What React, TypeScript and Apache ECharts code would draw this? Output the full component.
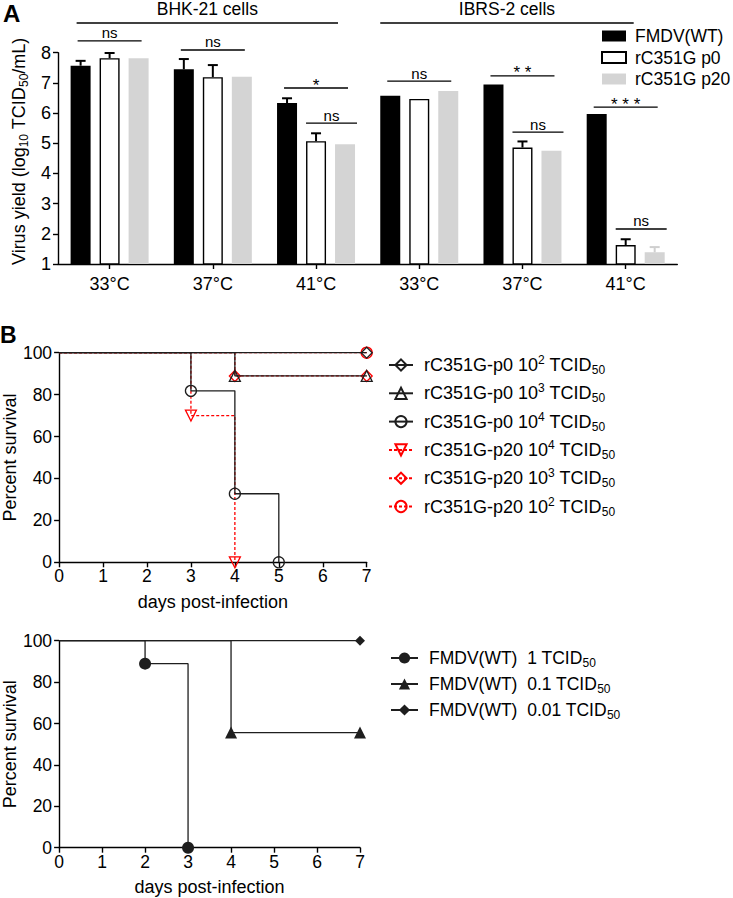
import React, { useEffect, useRef } from 'react';
import * as echarts from 'echarts';

const FONT = "'Liberation Sans', Arial, Helvetica, sans-serif";

// ---------- Panel A data ----------
const tempCategories = ['33°C', '37°C', '41°C', '33°C', '37°C', '41°C'];
const barNames = ['FMDV(WT)', 'rC351G p0', 'rC351G p20'];
const wtYield = [7.57, 7.45, 6.33, 6.57, 6.95, 5.97];
const wtErr = [0.16, 0.34, 0.16, 0, 0, 0];
const p0Yield = [7.82, 7.19, 5.07, 6.47, 4.86, 1.63];
const p0Err = [0.17, 0.4, 0.26, 0, 0.2, 0.19];
const p20Yield = [7.82, 7.2, 4.97, 6.73, 4.75, 1.39];
const p20Err = [0, 0, 0, 0, 0, 0.17];

// significance annotations
const sigGroup = [0, 1, 2, 2, 3, 4, 4, 5, 5];
const sigBarFrom = [0, 0, 0, 1, 0, 0, 1, 0, 1];
const sigBarTo = [2, 2, 2, 2, 2, 2, 2, 2, 2];
const sigLevel = [8.39, 8.09, 6.83, 5.67, 7.06, 7.23, 5.37, 6.2, 2.16];
const sigLabel = ['ns', 'ns', '*', 'ns', 'ns', '* *', 'ns', '* * *', 'ns'];

const cellLabels = ['BHK-21 cells', 'IBRS-2 cells'];
const cellFrom = [0, 3];
const cellTo = [2, 5];
const cellLevel = [8.98, 8.98];

// ---------- Panel B data (top) ----------
const topNames = [
  'rC351G-p0 10^2 TCID50',
  'rC351G-p0 10^3 TCID50',
  'rC351G-p0 10^4 TCID50',
  'rC351G-p20 10^4 TCID50',
  'rC351G-p20 10^3 TCID50',
  'rC351G-p20 10^2 TCID50',
];
const topRich = [
  'rC351G-p0 10{sup|2} TCID{sub|50}',
  'rC351G-p0 10{sup|3} TCID{sub|50}',
  'rC351G-p0 10{sup|4} TCID{sub|50}',
  'rC351G-p20 10{sup|4} TCID{sub|50}',
  'rC351G-p20 10{sup|3} TCID{sub|50}',
  'rC351G-p20 10{sup|2} TCID{sub|50}',
];
const p0e2Days = [0, 7];
const p0e2Surv = [100, 100];
const p0e3Days = [0, 4, 7];
const p0e3Surv = [100, 88.9, 88.9];
const p0e4Days = [0, 3, 4, 5];
const p0e4Surv = [100, 81.8, 32.7, 0];
const p20e4Days = [0, 3, 4];
const p20e4Surv = [100, 70, 0];
const p20e3Days = [0, 4, 7];
const p20e3Surv = [100, 88.9, 88.9];
const p20e2Days = [0, 7];
const p20e2Surv = [100, 100];

// ---------- Panel B data (bottom) ----------
const botNames = ['FMDV(WT)  1 TCID50', 'FMDV(WT)  0.1 TCID50', 'FMDV(WT)  0.01 TCID50'];
const botRich = [
  'FMDV(WT)  1 TCID{sub|50}',
  'FMDV(WT)  0.1 TCID{sub|50}',
  'FMDV(WT)  0.01 TCID{sub|50}',
];
const wt1Days = [0, 2, 3];
const wt1Surv = [100, 88.9, 0];
const wt01Days = [0, 4, 7];
const wt01Surv = [100, 55.6, 55.6];
const wt001Days = [0, 7];
const wt001Surv = [100, 100];

const dayTicks = { min: 0, max: 7, interval: 1 };
const survTicks = { min: 0, max: 100, interval: 20 };

// ---------- layout / style constants ----------
const BAR_W = 20;
const BAR_STEP = 29;
const RED = '#ff0000';
const LINE = '#1e1e1e';

const richStyles = {
  sup: { fontSize: 12, verticalAlign: 'top', lineHeight: 12, fontFamily: FONT, color: '#000' },
  sub: { fontSize: 12, verticalAlign: 'bottom', lineHeight: 12, fontFamily: FONT, color: '#000' },
};

function kmData(days: number[], surv: number[]) {
  return days.map((d, i) => (i === 0 ? { value: [d, surv[i]], symbol: 'none' } : { value: [d, surv[i]] }));
}

function kmSeries(
  name: string,
  days: number[],
  surv: number[],
  opts: { symbol: string; color: string; dashed: boolean; filled: boolean; rotate?: number; idx: number; z: number; size?: number }
) {
  return {
    type: 'line',
    name,
    xAxisIndex: opts.idx,
    yAxisIndex: opts.idx,
    step: 'end',
    clip: false,
    z: opts.z,
    data: kmData(days, surv),
    symbol: opts.symbol,
    symbolSize: opts.size ?? 11,
    symbolRotate: opts.rotate ?? 0,
    lineStyle: { color: opts.color, width: 1.3, type: opts.dashed ? [3, 2] : 'solid' },
    itemStyle: opts.filled
      ? { color: opts.color, borderColor: opts.color, borderWidth: 0 }
      : { color: 'transparent', borderColor: opts.color, borderWidth: 1.3 },
    emphasis: { disabled: true },
  };
}

const axisLineStyle = { color: '#000', width: 1.4 };

function valueAxis(grid: number, ticks: { min: number; max: number; interval: number }, extra: any) {
  return {
    type: 'value',
    gridIndex: grid,
    min: ticks.min,
    max: ticks.max,
    interval: ticks.interval,
    axisLine: { show: true, onZero: false, lineStyle: axisLineStyle },
    axisTick: { show: true, length: 5, lineStyle: axisLineStyle },
    splitLine: { show: false },
    axisLabel: { fontSize: 17.5, color: '#000', fontFamily: FONT },
    nameTextStyle: { fontSize: 18, color: '#000', fontFamily: FONT },
    ...extra,
  };
}

export default function App() {
  const ref = useRef<HTMLDivElement>(null);

  useEffect(() => {
    if (!ref.current) return;
    const chart = echarts.init(ref.current, null, { renderer: 'svg' });

    const means = [wtYield, p0Yield, p20Yield];
    const errs = [wtErr, p0Err, p20Err];
    const errData: number[][] = [];
    errs.forEach((arr, s) =>
      arr.forEach((e, c) => {
        if (e > 0) errData.push([c, s, means[s][c], e]);
      })
    );
    const sigData = sigGroup.map((g, i) => [g, sigBarFrom[i], sigBarTo[i], sigLevel[i]]);
    const cellData = cellFrom.map((f, i) => [f, cellTo[i], cellLevel[i]]);
    const cellPad = [
      [-33, 22],
      [-39, 8],
    ];

    const topRichMap: Record<string, string> = {};
    topNames.forEach((n, i) => (topRichMap[n] = topRich[i]));
    const botRichMap: Record<string, string> = {};
    botNames.forEach((n, i) => (botRichMap[n] = botRich[i]));

    const option: any = {
      animation: false,
      textStyle: { fontFamily: FONT },
      title: [
        { text: 'A', left: 3, top: 1, padding: 0, textStyle: { fontSize: 24, fontWeight: 'bold', color: '#000', fontFamily: FONT } },
        { text: 'B', left: 0, top: 323, padding: 0, textStyle: { fontSize: 23, fontWeight: 'bold', color: '#000', fontFamily: FONT } },
      ],
      grid: [
        { left: 49.7, right: 55.7, top: 52.7, height: 211.3 },
        { left: 52.7, top: 352.7, width: 314, height: 209.6 },
        { left: 50.7, top: 640.7, width: 309.3, height: 207 },
      ],
      legend: [
        {
          data: barNames,
          orient: 'vertical',
          left: 596,
          top: 22,
          icon: 'rect',
          itemWidth: 24,
          itemHeight: 11,
          itemGap: 3.5,
          selectedMode: false,
          textStyle: { fontSize: 17.5, lineHeight: 18, color: '#000', fontFamily: FONT, padding: [0, 0, 0, 4] },
        },
        {
          data: topNames,
          orient: 'vertical',
          left: 383,
          top: 349,
          itemWidth: 24,
          itemHeight: 14,
          itemGap: 6.3,
          selectedMode: false,
          formatter: (n: string) => topRichMap[n] || n,
          textStyle: { fontSize: 18, lineHeight: 22, color: '#000', fontFamily: FONT, padding: [0, 0, 0, 6], rich: richStyles },
        },
        {
          data: botNames,
          orient: 'vertical',
          left: 385,
          top: 642,
          itemWidth: 27,
          itemHeight: 14,
          itemGap: 4,
          selectedMode: false,
          formatter: (n: string) => botRichMap[n] || n,
          textStyle: { fontSize: 17.5, lineHeight: 22, color: '#000', fontFamily: FONT, padding: [0, 0, 0, 6], rich: richStyles },
        },
      ],
      xAxis: [
        {
          type: 'category',
          gridIndex: 0,
          data: tempCategories,
          axisLine: { show: true, lineStyle: axisLineStyle },
          axisTick: { show: true, alignWithLabel: true, length: 5, lineStyle: axisLineStyle },
          axisLabel: { fontSize: 18, color: '#000', margin: 11, fontFamily: FONT },
          splitLine: { show: false },
        },
        valueAxis(1, dayTicks, {
          name: 'days post-infection',
          nameLocation: 'middle',
          nameGap: 31,
          axisLabel: { fontSize: 17.5, color: '#000', fontFamily: FONT, margin: 5 },
        }),
        valueAxis(2, dayTicks, {
          name: 'days post-infection',
          nameLocation: 'middle',
          nameGap: 30,
          axisLabel: { fontSize: 17.5, color: '#000', fontFamily: FONT, margin: 5 },
        }),
      ],
      yAxis: [
        {
          type: 'value',
          gridIndex: 0,
          min: 1,
          max: 8,
          interval: 1,
          name: 'Virus yield (log{sub|10} TCID{sub|50}/mL)',
          nameLocation: 'middle',
          nameGap: 28,
          nameTextStyle: { fontSize: 18, lineHeight: 22, color: '#000', fontFamily: FONT, rich: richStyles, padding: [0, 0, 0, 14] },
          axisLine: { show: true, lineStyle: axisLineStyle },
          axisTick: { show: true, length: 5, lineStyle: axisLineStyle },
          axisLabel: { fontSize: 18, color: '#000', margin: 7, fontFamily: FONT },
          splitLine: { show: false },
        },
        valueAxis(1, survTicks, {
          name: 'Percent survival',
          nameLocation: 'middle',
          nameGap: 34,
          axisLabel: { fontSize: 17.5, color: '#000', fontFamily: FONT, margin: 7 },
        }),
        valueAxis(2, survTicks, {
          name: 'Percent survival',
          nameLocation: 'middle',
          nameGap: 32,
          axisLabel: { fontSize: 17.5, color: '#000', fontFamily: FONT, margin: 7 },
        }),
      ],
      series: [
        {
          type: 'bar',
          name: barNames[0],
          xAxisIndex: 0,
          yAxisIndex: 0,
          data: wtYield,
          barWidth: BAR_W,
          barGap: '45%',
          itemStyle: { color: '#000' },
        },
        {
          type: 'bar',
          name: barNames[1],
          xAxisIndex: 0,
          yAxisIndex: 0,
          data: p0Yield,
          barWidth: BAR_W,
          barGap: '45%',
          itemStyle: { color: '#fff', borderColor: '#000', borderWidth: 1.4 },
        },
        {
          type: 'bar',
          name: barNames[2],
          xAxisIndex: 0,
          yAxisIndex: 0,
          data: p20Yield,
          barWidth: BAR_W,
          barGap: '45%',
          itemStyle: { color: '#d4d4d4' },
        },
        {
          type: 'custom',
          name: 'err',
          xAxisIndex: 0,
          yAxisIndex: 0,
          z: 5,
          clip: false,
          data: errData,
          renderItem: (params: any, api: any) => {
            const c = api.value(0);
            const s = api.value(1);
            const m = api.value(2);
            const e = api.value(3);
            const base = api.coord([c, m]);
            const top = api.coord([c, m + e]);
            const x = base[0] + (s - 1) * BAR_STEP;
            const color = s === 2 ? '#cfcfcf' : '#000';
            return {
              type: 'group',
              children: [
                { type: 'line', shape: { x1: x, y1: base[1], x2: x, y2: top[1] }, style: { stroke: color, lineWidth: 2 } },
                { type: 'line', shape: { x1: x - 5, y1: top[1], x2: x + 5, y2: top[1] }, style: { stroke: color, lineWidth: 2 } },
              ],
            };
          },
        },
        {
          type: 'custom',
          name: 'sig',
          xAxisIndex: 0,
          yAxisIndex: 0,
          z: 5,
          clip: false,
          data: sigData,
          renderItem: (params: any, api: any) => {
            const g = api.value(0);
            const bf = api.value(1);
            const bt = api.value(2);
            const lv = api.value(3);
            const p = api.coord([g, lv]);
            const x1 = p[0] + (bf - 1) * BAR_STEP - (bf === 0 ? 3 : 10);
            const x2 = p[0] + (bt - 1) * BAR_STEP + (bf === 0 ? 3 : 12);
            const label = sigLabel[params.dataIndex];
            const star = label.indexOf('*') >= 0;
            return {
              type: 'group',
              children: [
                { type: 'line', shape: { x1, y1: p[1], x2, y2: p[1] }, style: { stroke: '#000', lineWidth: 1.3 } },
                {
                  type: 'text',
                  style: {
                    text: label,
                    x: (x1 + x2) / 2,
                    y: star ? p[1] - 3 : p[1] - 0.5,
                    align: 'center',
                    verticalAlign: star ? 'middle' : 'bottom',
                    fontSize: star ? 17 : 15,
                    fontFamily: FONT,
                    fill: '#000',
                  },
                },
              ],
            };
          },
        },
        {
          type: 'custom',
          name: 'cells',
          xAxisIndex: 0,
          yAxisIndex: 0,
          z: 5,
          clip: false,
          data: cellData,
          renderItem: (params: any, api: any) => {
            const f = api.value(0);
            const t = api.value(1);
            const lv = api.value(2);
            const pad = cellPad[params.dataIndex];
            const a = api.coord([f, lv]);
            const b = api.coord([t, lv]);
            const x1 = a[0] + pad[0];
            const x2 = b[0] + pad[1];
            return {
              type: 'group',
              children: [
                { type: 'line', shape: { x1, y1: a[1], x2, y2: a[1] }, style: { stroke: '#000', lineWidth: 1.5 } },
                {
                  type: 'text',
                  style: {
                    text: cellLabels[params.dataIndex],
                    x: (x1 + x2) / 2,
                    y: a[1] - 5,
                    align: 'center',
                    verticalAlign: 'bottom',
                    fontSize: 17.5,
                    fontFamily: FONT,
                    fill: '#000',
                  },
                },
              ],
            };
          },
        },
        kmSeries(topNames[0], p0e2Days, p0e2Surv, { symbol: 'diamond', color: LINE, dashed: false, filled: false, idx: 1, z: 4 }),
        kmSeries(topNames[1], p0e3Days, p0e3Surv, { symbol: 'triangle', color: LINE, dashed: false, filled: false, idx: 1, z: 4 }),
        kmSeries(topNames[2], p0e4Days, p0e4Surv, { symbol: 'circle', color: LINE, dashed: false, filled: false, idx: 1, z: 4 }),
        kmSeries(topNames[3], p20e4Days, p20e4Surv, { symbol: 'triangle', rotate: 180, color: RED, dashed: true, filled: false, idx: 1, z: 3 }),
        kmSeries(topNames[4], p20e3Days, p20e3Surv, { symbol: 'diamond', color: RED, dashed: true, filled: false, idx: 1, z: 3 }),
        kmSeries(topNames[5], p20e2Days, p20e2Surv, { symbol: 'circle', color: RED, dashed: true, filled: false, idx: 1, z: 3 }),
        kmSeries(botNames[0], wt1Days, wt1Surv, { symbol: 'circle', color: LINE, dashed: false, filled: true, idx: 2, z: 3, size: 12 }),
        kmSeries(botNames[1], wt01Days, wt01Surv, { symbol: 'triangle', color: LINE, dashed: false, filled: true, idx: 2, z: 3, size: 12 }),
        kmSeries(botNames[2], wt001Days, wt001Surv, { symbol: 'diamond', color: LINE, dashed: false, filled: true, idx: 2, z: 3, size: 10 }),
      ],
    };

    chart.setOption(option);
    return () => chart.dispose();
  }, []);

  return (
    <div
      ref={ref}
      style={{ position: 'fixed', left: 0, top: 0, width: 733, height: 898, background: '#fff' }}
    />
  );
}
